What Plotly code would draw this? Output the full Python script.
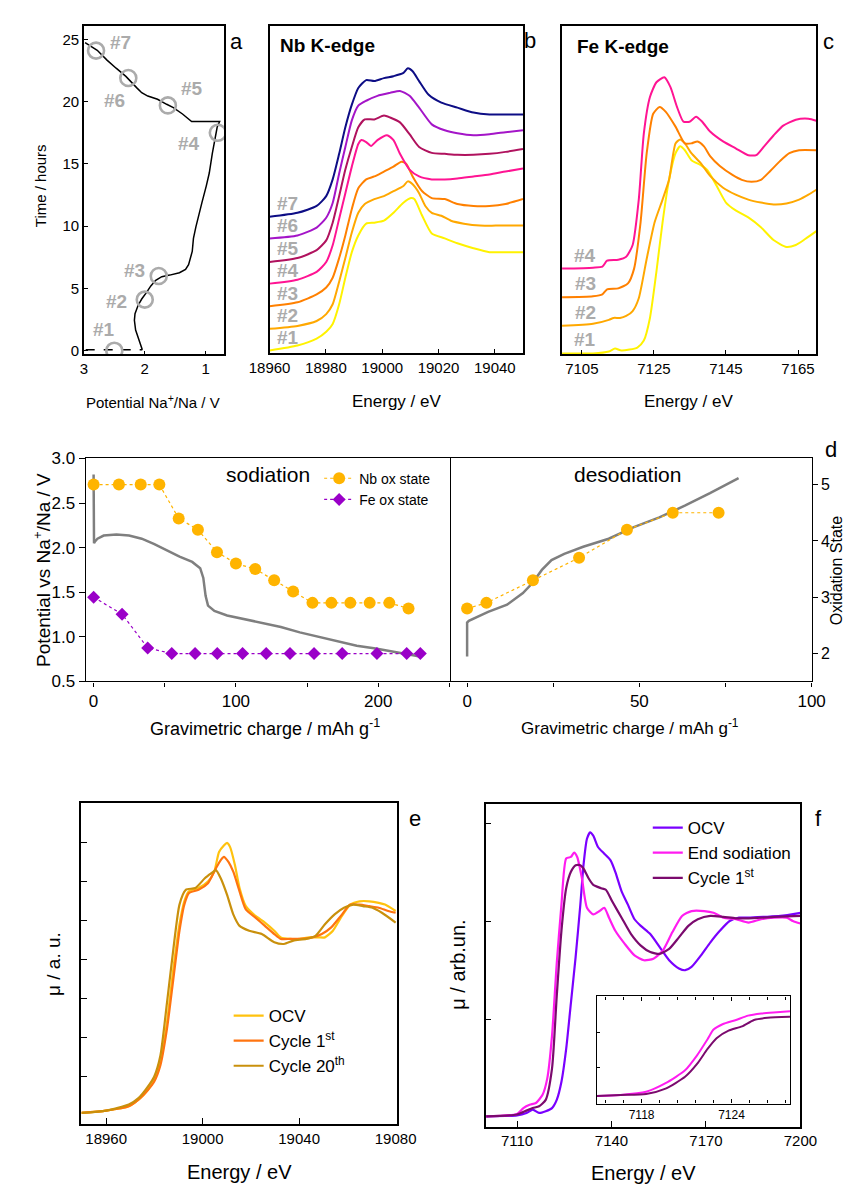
import plotly.graph_objects as go

W, H = 864, 1194
FONT = "Arial, Liberation Sans, sans-serif"


def px(x):
    """horizontal pixel -> paper fraction"""
    return x / W


def py(y):
    """vertical pixel measured from the top -> paper fraction"""
    return 1 - y / H


# ---------------- (a) operando galvanostatic profile ----------------
a_rest_pot = [2.97, 2.04]
a_rest_time = [0.08, 0.08]
a_pot = [2.04, 2.09, 2.15, 2.17, 2.16, 2.11, 2.05, 1.97, 1.90, 1.82, 1.72, 1.59, 1.43,
         1.33, 1.28, 1.22, 1.20, 1.16, 1.11, 1.06, 0.99, 0.94, 0.89, 0.85, 0.81, 0.77,
         1.23, 1.38, 1.53, 1.64, 1.79, 1.95, 2.05, 2.13, 2.21, 2.31, 2.47, 2.62, 2.78, 2.98]
a_time = [0.08, 0.87, 1.66, 2.44, 2.97, 3.63, 4.15, 4.68, 5.20, 5.65, 5.94, 6.07, 6.26,
          6.52, 6.91, 7.97, 9.02, 9.94, 10.99, 11.91, 13.22, 14.27, 15.85, 16.90, 17.96, 18.40,
          18.40, 19.01, 19.53, 19.79, 20.19, 20.45, 20.72, 21.11, 21.50, 22.03, 22.69, 23.34, 24.13, 24.74]
a_spec_names = ["#1", "#2", "#3", "#4", "#5", "#6", "#7"]
a_spec_pot = [2.50, 2.00, 1.77, 0.80, 1.62, 2.27, 2.80]
a_spec_time = [0.0, 4.1, 6.0, 17.5, 19.7, 21.9, 24.1]

# ---------------- (b) Nb K-edge operando XANES (stacked) ----------------
b_e1 = [18960.0, 18969.9, 18976.7, 18980.1, 18982.4, 18984.7, 18986.9, 18989.2, 18991.5, 18994.3, 18997.2, 19000.6,
        19004.0, 19007.4, 19010.2, 19011.4, 19014.2, 19017.6, 19022.2, 19026.7, 19032.4, 19038.1, 19043.8, 19050.0]
b_mu1 = [0.03, 0.08, 0.15, 0.22, 0.30, 0.50, 0.77, 1.03, 1.20, 1.32, 1.33, 1.35,
         1.43, 1.53, 1.58, 1.57, 1.40, 1.22, 1.17, 1.12, 1.07, 1.03, 1.03, 1.03]
b_e2 = [18960.0, 18969.9, 18976.7, 18980.1, 18982.4, 18984.7, 18986.9, 18989.2, 18991.5, 18993.8, 18997.2, 19000.6, 19004.0,
        19007.4, 19009.1, 19010.8, 19013.1, 19015.3, 19017.6, 19021.0, 19024.4, 19029.0, 19034.7, 19040.3, 19046.0, 19050.0]
b_mu2 = [0.25, 0.28, 0.33, 0.40, 0.50, 0.73, 0.97, 1.23, 1.43, 1.52, 1.57, 1.60, 1.65,
         1.70, 1.75, 1.72, 1.63, 1.50, 1.43, 1.40, 1.35, 1.32, 1.30, 1.30, 1.30, 1.30]
b_e3 = [18960.0, 18969.9, 18976.7, 18980.1, 18982.4, 18984.7, 18986.9, 18989.2, 18991.5, 18994.3, 18997.2, 19000.6,
        19004.0, 19006.8, 19008.5, 19010.8, 19014.2, 19017.6, 19022.2, 19026.7, 19032.4, 19038.1, 19043.8, 19050.0]
b_mu3 = [0.48, 0.52, 0.60, 0.67, 0.77, 0.97, 1.20, 1.47, 1.68, 1.77, 1.80, 1.85,
         1.90, 1.95, 1.93, 1.80, 1.65, 1.58, 1.57, 1.52, 1.50, 1.50, 1.52, 1.57]
b_e4 = [18960.0, 18969.9, 18976.7, 18980.1, 18982.4, 18984.7, 18986.9, 18989.2, 18991.5, 18992.6, 18994.3, 18996.0, 18998.3,
        19001.7, 19004.0, 19006.3, 19009.7, 19013.1, 19017.6, 19022.2, 19026.7, 19032.4, 19038.1, 19043.8, 19050.0]
b_mu4 = [0.71, 0.75, 0.83, 0.93, 1.10, 1.37, 1.63, 1.90, 2.13, 2.17, 2.15, 2.11, 2.17,
         2.22, 2.17, 2.03, 1.87, 1.80, 1.77, 1.77, 1.78, 1.80, 1.82, 1.85, 1.88]
b_e5 = [18960.0, 18969.9, 18976.7, 18980.1, 18982.4, 18984.7, 18986.9, 18989.2, 18991.5, 18993.8, 18997.2, 19000.6,
        19002.8, 19006.3, 19009.7, 19013.1, 19017.6, 19022.2, 19026.7, 19032.4, 19038.1, 19043.8, 19050.0]
b_mu5 = [0.93, 0.97, 1.05, 1.15, 1.33, 1.60, 1.87, 2.10, 2.30, 2.38, 2.38, 2.42,
         2.40, 2.35, 2.23, 2.10, 2.04, 2.03, 2.02, 2.02, 2.03, 2.05, 2.08]
b_e6 = [18960.0, 18969.9, 18976.7, 18980.1, 18982.4, 18984.7, 18986.9, 18989.2, 18991.5, 18994.3, 18998.3,
        19002.8, 19006.3, 19009.7, 19013.1, 19017.6, 19022.2, 19026.7, 19032.4, 19038.1, 19043.8, 19050.0]
b_mu6 = [1.17, 1.20, 1.28, 1.38, 1.53, 1.83, 2.10, 2.37, 2.52, 2.57, 2.62,
         2.65, 2.67, 2.62, 2.50, 2.33, 2.27, 2.24, 2.22, 2.23, 2.25, 2.27]
b_e7 = [18960.0, 18969.9, 18976.7, 18980.1, 18982.4, 18984.7, 18986.9, 18989.2, 18991.5, 18994.3, 18997.2, 19000.6,
        19004.0, 19007.4, 19009.1, 19010.8, 19013.1, 19016.5, 19021.0, 19026.7, 19032.4, 19038.1, 19043.8, 19050.0]
b_mu7 = [1.39, 1.43, 1.50, 1.60, 1.77, 2.03, 2.30, 2.53, 2.70, 2.78, 2.77, 2.80,
         2.82, 2.85, 2.90, 2.87, 2.77, 2.63, 2.55, 2.50, 2.45, 2.43, 2.43, 2.43]
b_ticks = [18960, 18980, 19000, 19020, 19040]

# ---------------- (c) Fe K-edge operando XANES (stacked) ----------------
c_e1 = [7099.5, 7108.1, 7112.5, 7114.2, 7116.0, 7120.4, 7122.2, 7123.9, 7125.7, 7127.4, 7129.2, 7131.0, 7132.3, 7133.6,
        7135.4, 7138.0, 7139.8, 7142.4, 7145.0, 7147.7, 7151.2, 7154.7, 7158.2, 7161.8, 7164.4, 7167.0, 7170.1]
c_mu1 = [0.01, 0.01, 0.03, 0.06, 0.04, 0.07, 0.14, 0.37, 0.84, 1.34, 1.77, 2.04, 2.11, 2.07,
         1.97, 1.92, 1.87, 1.71, 1.54, 1.46, 1.39, 1.29, 1.16, 1.09, 1.11, 1.17, 1.25]
c_e2 = [7099.5, 7108.1, 7112.5, 7113.8, 7115.6, 7117.3, 7119.1, 7120.8, 7123.0, 7125.2, 7127.4, 7129.2, 7131.0, 7132.3,
        7133.6, 7135.4, 7138.0, 7140.6, 7144.2, 7147.7, 7151.2, 7154.7, 7158.2, 7161.8, 7165.3, 7167.9, 7170.1]
c_mu2 = [0.29, 0.31, 0.35, 0.37, 0.37, 0.39, 0.44, 0.57, 0.97, 1.34, 1.57, 1.77, 2.14, 2.18,
         2.14, 2.04, 1.94, 1.81, 1.69, 1.62, 1.57, 1.54, 1.52, 1.53, 1.57, 1.62, 1.67]
c_e3 = [7099.5, 7108.1, 7110.7, 7112.0, 7115.1, 7117.8, 7119.5, 7121.3, 7123.0, 7124.8, 7126.6, 7128.3, 7131.0, 7133.6,
        7135.4, 7137.1, 7138.9, 7140.6, 7143.3, 7146.8, 7149.4, 7152.1, 7154.7, 7157.3, 7160.0, 7162.6, 7165.3, 7170.1]
c_mu3 = [0.58, 0.59, 0.61, 0.66, 0.67, 0.72, 0.87, 1.34, 2.04, 2.44, 2.51, 2.46, 2.31, 2.14,
         2.14, 2.16, 2.11, 2.01, 1.91, 1.82, 1.77, 1.75, 1.77, 1.86, 1.96, 2.04, 2.07, 2.07]
c_e4 = [7099.5, 7108.1, 7110.7, 7112.0, 7115.1, 7117.3, 7119.1, 7120.8, 7122.2, 7123.9, 7125.7, 7127.9, 7129.6, 7131.4,
        7133.2, 7134.9, 7136.7, 7138.4, 7140.6, 7144.2, 7147.7, 7151.2, 7153.4, 7155.6, 7158.2, 7160.9, 7164.4, 7167.9, 7170.1]
c_mu4 = [0.87, 0.88, 0.89, 0.95, 0.96, 0.99, 1.11, 1.57, 2.24, 2.61, 2.76, 2.81, 2.71, 2.51,
         2.36, 2.36, 2.41, 2.36, 2.26, 2.16, 2.09, 2.02, 2.02, 2.11, 2.22, 2.32, 2.38, 2.39, 2.37]
c_ticks = [7105, 7125, 7145, 7165]

# ---------------- (d) charge curves and oxidation states ----------------
d_sod_cap = [0.0, 0.3, 1.0, 2.7, 7.1, 16.0, 24.9, 33.8, 42.7, 51.6, 60.4, 69.3, 74.9, 77.1,
             78.7, 80.4, 84.9, 93.8, 104.9, 118.2, 131.6, 144.9, 158.2, 171.6, 184.9, 198.2, 211.6, 229.3]
d_sod_pot = [2.82, 2.05, 2.07, 2.10, 2.135, 2.146, 2.135, 2.10, 2.04, 1.97, 1.90, 1.84, 1.77, 1.66,
             1.46, 1.35, 1.29, 1.24, 1.20, 1.15, 1.11, 1.05, 1.00, 0.95, 0.90, 0.87, 0.83, 0.78]
d_nb_sod_cap = [0.0, 17.8, 33.1, 46.2, 59.8, 73.3, 86.7, 100.0, 113.6, 126.9, 140.2, 153.8, 167.1, 180.4, 194.0, 207.8, 221.3]
d_nb_sod_ox = [5.0, 5.0, 5.0, 5.0, 4.4, 4.2, 3.8, 3.6, 3.5, 3.3, 3.1, 2.9, 2.9, 2.9, 2.9, 2.9, 2.8]
d_fe_sod_cap = [0.0, 20.0, 38.0, 54.9, 71.3, 86.9, 104.7, 121.3, 138.0, 154.9, 174.7, 199.1, 220.0, 229.6]
d_fe_sod_ox = [3.0, 2.7, 2.1, 2.0, 2.0, 2.0, 2.0, 2.0, 2.0, 2.0, 2.0, 2.0, 2.0, 2.0]
d_des_cap = [0.0, 0.0, 0.5, 6.1, 11.6, 16.2, 18.9, 21.7, 24.5, 28.2, 33.7, 41.1, 48.4, 55.8, 63.2, 70.5, 78.8]
d_des_pot = [0.78, 1.16, 1.18, 1.28, 1.36, 1.49, 1.60, 1.75, 1.86, 1.93, 2.01, 2.10, 2.23, 2.34, 2.47, 2.61, 2.78]
d_nb_des_cap = [0.0, 5.6, 19.1, 32.5, 46.4, 59.7, 73.0]
d_nb_des_ox = [2.8, 2.9, 3.3, 3.7, 4.2, 4.5, 4.5]

# ---------------- (e) Nb K-edge, OCV vs cycled ----------------
e_e_ocv = [18949.8, 18960.0, 18969.4, 18973.4, 18977.3, 18979.9, 18982.5, 18985.2, 18987.8, 18990.4,
           18992.4, 18994.3, 18998.3, 19002.2, 19004.8, 19006.8, 19008.8, 19010.1, 19011.4, 19013.4,
           19015.3, 19017.9, 19021.9, 19025.8, 19029.7, 19032.4, 19036.3, 19040.2, 19044.2, 19048.1,
           19050.7, 19054.0, 19057.3, 19061.2, 19065.1, 19069.1, 19073.0, 19075.6, 19080.0]
e_mu_ocv = [0.011, 0.023, 0.045, 0.079, 0.129, 0.180, 0.272, 0.474, 0.744, 0.979,
            1.097, 1.148, 1.165, 1.198, 1.249, 1.350, 1.383, 1.397, 1.375, 1.282,
            1.165, 1.072, 1.022, 0.988, 0.946, 0.912, 0.904, 0.904, 0.912, 0.912,
            0.912, 0.946, 1.013, 1.080, 1.097, 1.097, 1.089, 1.080, 1.047]
e_e_c1 = [18949.8, 18960.0, 18969.4, 18973.4, 18977.3, 18979.9, 18982.5, 18985.2, 18987.8, 18990.4,
          18992.4, 18994.3, 18998.3, 19002.2, 19005.5, 19007.5, 19008.8, 19010.7, 19012.7, 19015.3,
          19017.9, 19021.9, 19025.8, 19029.7, 19032.4, 19036.3, 19040.2, 19045.5, 19049.4, 19053.3,
          19057.3, 19061.2, 19065.1, 19069.1, 19073.0, 19076.9, 19080.0]
e_mu_c1 = [0.011, 0.023, 0.045, 0.079, 0.129, 0.171, 0.256, 0.441, 0.693, 0.946,
           1.080, 1.139, 1.156, 1.190, 1.266, 1.308, 1.325, 1.299, 1.249, 1.148,
           1.055, 1.013, 0.971, 0.929, 0.904, 0.904, 0.904, 0.912, 0.929, 0.963,
           1.022, 1.080, 1.080, 1.072, 1.064, 1.047, 1.038]
e_e_c20 = [18949.8, 18960.0, 18969.4, 18973.4, 18977.3, 18979.9, 18982.5, 18985.2, 18987.8, 18990.4,
           18993.0, 18997.0, 19000.9, 19003.5, 19005.5, 19007.5, 19010.1, 19012.7, 19015.3, 19019.3,
           19024.5, 19029.7, 19033.7, 19037.6, 19042.9, 19046.8, 19050.7, 19054.7, 19058.6, 19062.5,
           19066.5, 19070.4, 19074.3, 19080.0]
e_mu_c20 = [0.011, 0.023, 0.054, 0.087, 0.146, 0.197, 0.306, 0.575, 0.845, 1.080,
            1.156, 1.165, 1.215, 1.240, 1.257, 1.215, 1.131, 1.030, 0.971, 0.946,
            0.929, 0.887, 0.878, 0.895, 0.904, 0.920, 0.979, 1.030, 1.064, 1.080,
            1.072, 1.064, 1.038, 0.988]
e_ticks = [18960, 19000, 19040, 19080]

# ---------------- (f) Fe K-edge, OCV / end of sodiation / cycled ----------------
f_e_ocv = [7100.2, 7110.0, 7113.0, 7115.0, 7117.0, 7119.1, 7121.1, 7122.6, 7124.1, 7125.6,
           7127.1, 7128.6, 7130.1, 7131.1, 7132.2, 7133.2, 7134.2, 7135.7, 7137.7, 7139.7,
           7141.2, 7143.2, 7145.2, 7147.3, 7149.3, 7152.3, 7155.3, 7158.3, 7161.4, 7163.4,
           7165.4, 7168.4, 7171.4, 7174.4, 7177.5, 7180.5, 7183.5, 7188.5, 7193.6, 7200.0]
f_mu_ocv = [0.003, 0.008, 0.020, 0.037, 0.020, 0.029, 0.045, 0.087, 0.180, 0.348,
            0.583, 0.818, 1.087, 1.289, 1.424, 1.457, 1.440, 1.382, 1.348, 1.314,
            1.255, 1.155, 1.087, 1.012, 0.978, 0.936, 0.869, 0.802, 0.760, 0.751,
            0.768, 0.827, 0.894, 0.953, 1.003, 1.020, 1.020, 1.024, 1.029, 1.045]
f_e_es = [7100.2, 7110.0, 7112.0, 7114.0, 7116.0, 7118.1, 7119.6, 7121.1, 7122.6, 7124.1,
          7125.6, 7127.1, 7128.1, 7129.1, 7130.6, 7132.2, 7134.2, 7136.2, 7137.7, 7139.2,
          7141.2, 7144.2, 7147.3, 7150.3, 7153.3, 7156.3, 7159.3, 7162.4, 7165.4, 7169.4,
          7172.4, 7175.5, 7179.5, 7183.5, 7187.5, 7191.6, 7195.6, 7197.6, 7200.0]
f_mu_es = [0.003, 0.015, 0.045, 0.062, 0.071, 0.113, 0.197, 0.415, 0.785, 1.087,
           1.323, 1.331, 1.353, 1.331, 1.222, 1.071, 1.037, 1.054, 1.071, 1.020,
           0.953, 0.886, 0.827, 0.802, 0.810, 0.852, 0.945, 1.029, 1.054, 1.054,
           1.045, 1.020, 1.012, 0.995, 1.012, 1.020, 1.020, 1.003, 0.990]
f_e_c1 = [7100.2, 7110.0, 7113.0, 7115.0, 7117.0, 7119.1, 7121.1, 7122.6, 7124.1, 7125.6,
          7127.1, 7128.6, 7130.1, 7131.1, 7132.7, 7134.2, 7136.7, 7138.2, 7140.2, 7143.2,
          7146.2, 7149.3, 7152.3, 7155.3, 7158.3, 7161.4, 7164.4, 7167.4, 7171.4, 7175.5,
          7179.5, 7183.5, 7187.5, 7191.6, 7195.6, 7200.0]
f_mu_c1 = [0.003, 0.012, 0.032, 0.045, 0.054, 0.087, 0.247, 0.617, 0.953, 1.171,
           1.255, 1.289, 1.289, 1.272, 1.222, 1.188, 1.171, 1.163, 1.104, 1.020,
           0.936, 0.877, 0.844, 0.835, 0.860, 0.919, 0.978, 1.012, 1.029, 1.024,
           1.017, 1.017, 1.020, 1.024, 1.027, 1.029]
f_ticks = [7110, 7140, 7170, 7200]
# pre-edge / edge zoom (inset)
ins_e_es = [7115.0, 7116.6, 7118.3, 7119.6, 7120.9, 7121.7, 7122.4, 7122.8, 7123.4, 7124.3, 7125.1, 7126.0, 7126.8, 7127.9]
ins_mu_es = [0.07, 0.08, 0.11, 0.19, 0.31, 0.45, 0.60, 0.69, 0.74, 0.78, 0.82, 0.84, 0.85, 0.86]
ins_e_c1 = [7115.0, 7116.6, 7118.3, 7119.6, 7120.9, 7121.7, 7122.4, 7123.0, 7123.8, 7124.7, 7125.5, 7126.4, 7127.9]
ins_mu_c1 = [0.07, 0.08, 0.09, 0.14, 0.25, 0.37, 0.51, 0.61, 0.68, 0.72, 0.78, 0.80, 0.81]
ins_ticks = [7118, 7124]

# ---------------- colours ----------------
SPEC_COLORS = ["#FFF200", "#FFA800", "#FF8000", "#FF1493", "#B0125E", "#A415C8", "#0D0D85"]
GREY_LABEL = "#ABABAB"
NB_COLOR, FE_COLOR, CURVE_GREY = "#FFB400", "#9A00C8", "#7F7F7F"
E_COLORS = ["#FFC20E", "#FF7410", "#C9900C"]
F_COLORS = ["#7A00FF", "#FF1CF0", "#7B0A6E"]

fig = go.Figure()


def curve(x, y, color, xa, ya, width=2.0, shape="spline", **kw):
    fig.add_trace(go.Scatter(
        x=x, y=y, mode="lines", xaxis=xa, yaxis=ya,
        line=dict(color=color, width=width, shape=shape, smoothing=0.6),
        showlegend=kw.pop("showlegend", False), hoverinfo="skip", **kw))


# (a)
curve(a_rest_pot, a_rest_time, "black", "x", "y", width=1.4, shape="linear")
fig.data[-1].line.dash = "dash"
curve(a_pot, a_time, "black", "x", "y", width=1.5, shape="linear")
fig.add_trace(go.Scatter(
    x=a_spec_pot, y=a_spec_time, mode="markers", xaxis="x", yaxis="y",
    marker=dict(symbol="circle-open", size=16, color=GREY_LABEL, line=dict(width=2.6, color=GREY_LABEL)),
    showlegend=False, hoverinfo="skip"))

# (b)
b_sets = [(b_e1, b_mu1), (b_e2, b_mu2), (b_e3, b_mu3), (b_e4, b_mu4),
          (b_e5, b_mu5), (b_e6, b_mu6), (b_e7, b_mu7)]
for (e, mu), col in zip(b_sets, SPEC_COLORS):
    curve(e, mu, col, "x2", "y2")

# (c)
c_sets = [(c_e1, c_mu1), (c_e2, c_mu2), (c_e3, c_mu3), (c_e4, c_mu4)]
for (e, mu), col in zip(c_sets, SPEC_COLORS[:4]):
    curve(e, mu, col, "x3", "y3")

# (d) sodiation side
curve(d_sod_cap, d_sod_pot, CURVE_GREY, "x4", "y4", width=2.5, shape="linear")
fig.add_trace(go.Scatter(
    x=d_nb_sod_cap, y=d_nb_sod_ox, mode="lines+markers", xaxis="x4", yaxis="y5",
    name="Nb ox state", line=dict(color=NB_COLOR, width=1.2, dash="dot"),
    marker=dict(symbol="circle", size=12, color=NB_COLOR), legend="legend", hoverinfo="skip"))
fig.add_trace(go.Scatter(
    x=d_fe_sod_cap, y=d_fe_sod_ox, mode="lines+markers", xaxis="x4", yaxis="y5",
    name="Fe ox state", line=dict(color=FE_COLOR, width=1.2, dash="dot"),
    marker=dict(symbol="diamond", size=10, color=FE_COLOR), legend="legend", hoverinfo="skip"))
# (d) desodiation side
curve(d_des_cap, d_des_pot, CURVE_GREY, "x5", "y6", width=2.5, shape="linear")
fig.add_trace(go.Scatter(
    x=d_nb_des_cap, y=d_nb_des_ox, mode="lines+markers", xaxis="x5", yaxis="y7",
    line=dict(color=NB_COLOR, width=1.2, dash="dot"),
    marker=dict(symbol="circle", size=12, color=NB_COLOR), showlegend=False, hoverinfo="skip"))

# (e)
for (e, mu, name), col in zip([(e_e_ocv, e_mu_ocv, "OCV"),
                               (e_e_c1, e_mu_c1, "Cycle 1<sup>st</sup>"),
                               (e_e_c20, e_mu_c20, "Cycle 20<sup>th</sup>")], E_COLORS):
    curve(e, mu, col, "x6", "y8", width=2.2, name=name, showlegend=True,
          legend="legend2", legendgroup=name)

# (f)
for (e, mu, name), col in zip([(f_e_ocv, f_mu_ocv, "OCV"),
                               (f_e_es, f_mu_es, "End sodiation"),
                               (f_e_c1, f_mu_c1, "Cycle 1<sup>st</sup>")], F_COLORS):
    curve(e, mu, col, "x7", "y9", width=2.2, name=name, showlegend=True,
          legend="legend3", legendgroup=name)
curve(ins_e_es, ins_mu_es, F_COLORS[1], "x8", "y10", width=2.0)
curve(ins_e_c1, ins_mu_c1, F_COLORS[2], "x8", "y10", width=2.0)


def ax(**kw):
    base = dict(showline=True, linecolor="black", linewidth=1.6, mirror=True,
                showgrid=False, zeroline=False, ticks="inside", ticklen=5,
                tickwidth=1, tickcolor="black", tickformat="d",
                tickfont=dict(family=FONT, size=15, color="black"))
    base.update(kw)
    return base


def tf(size):
    return dict(family=FONT, size=size, color="black")


ROW1 = [py(351), py(17)]
ROW2 = [py(683.3), py(456.7)]
OX_RANGE = [1.505, 5.465]
POT_RANGE = [0.5, 3.0]

fig.update_layout(
    width=W, height=H, margin=dict(l=0, r=0, t=0, b=0),
    paper_bgcolor="white", plot_bgcolor="white",
    font=dict(family=FONT, color="black"),
    # (a)
    xaxis=ax(domain=[px(66), px(213)], range=[3.0, 0.7], tickvals=[3, 2, 1], anchor="y", ticklen=4,
             tickfont=tf(15)),
    yaxis=ax(domain=ROW1, range=[-0.3, 26.1], tickvals=[0, 5, 10, 15, 20, 25], anchor="x", ticklen=4,
             tickfont=tf(15)),
    # (b)
    xaxis2=ax(domain=[px(261), px(527)], range=[18960, 19050], tickvals=b_ticks, anchor="y2"),
    yaxis2=ax(domain=[py(350), py(17)], range=[0, 3.333], ticks="", showticklabels=False, anchor="x2"),
    # (c)
    xaxis3=ax(domain=[px(568), px(835)], range=[7099.5, 7170.1], tickvals=c_ticks, anchor="y3"),
    yaxis3=ax(domain=ROW1, range=[0, 3.333], ticks="", showticklabels=False, anchor="x3"),
    # (d) left
    xaxis4=ax(domain=[px(68), px(450)], range=[-5.5, 250.2], tick0=0, dtick=100,
              ticks="outside", ticklen=4, linewidth=1.3,
              minor=dict(tick0=0, dtick=50, ticks="outside", ticklen=4, tickcolor="black"),
              anchor="y4", tickfont=tf(17)),
    yaxis4=ax(domain=ROW2, range=POT_RANGE, tick0=0.5, dtick=0.5, tickformat=".1f",
              ticks="outside", ticklen=6, linewidth=1.3, anchor="x4", tickfont=tf(17)),
    yaxis5=dict(overlaying="y4", anchor="x4", range=OX_RANGE, visible=False),
    # (d) right
    xaxis5=ax(domain=[px(450), px(830)], range=[-5.07, 100], tick0=0, dtick=50,
              ticks="outside", ticklen=4, linewidth=1.3,
              minor=dict(tick0=0, dtick=25, ticks="outside", ticklen=4, tickcolor="black"),
              anchor="y6", tickfont=tf(17)),
    yaxis6=dict(domain=ROW2, anchor="x5", range=POT_RANGE, visible=False),
    yaxis7=ax(overlaying="y6", anchor="x5", side="right", range=OX_RANGE, tickvals=[2, 3, 4, 5],
              ticks="outside", ticklen=5, mirror=False, linewidth=1.3, tickfont=tf(16)),
    # (e)
    xaxis6=ax(domain=[px(63.3), px(394.3)], range=[18949.7, 19080.4], tickvals=e_ticks,
              ticklen=6, anchor="y8", tickfont=tf(15)),
    yaxis8=ax(domain=[py(1133.3), py(806.7)], range=[-0.047, 1.602],
              tickvals=[0.2, 0.4, 0.6, 0.8, 1.0, 1.2, 1.4], showticklabels=False, ticklen=6, anchor="x6"),
    # (f)
    xaxis7=ax(domain=[px(487.7), px(818.3)], range=[7100, 7200], tickvals=f_ticks,
              ticklen=6, anchor="y9", tickfont=tf(15)),
    yaxis9=ax(domain=[py(1135.7), py(808.3)], range=[-0.05, 1.6], tickvals=[0.5, 1.0, 1.5],
              showticklabels=False, ticklen=6, anchor="x7"),
    # (f) inset
    xaxis8=ax(domain=[px(604.3), px(807.3)], range=[7115.0, 7127.9], tickvals=ins_ticks,
              ticklen=4, mirror="ticks", linewidth=1.4,
              minor=dict(tick0=7118, dtick=1.2, ticks="inside", ticklen=3, tickcolor="black"),
              anchor="y10", tickfont=tf(12)),
    yaxis10=ax(domain=[py(1112.3), py(1003.3)], range=[0, 1], tickvals=[1 / 3, 2 / 3],
               showticklabels=False, ticklen=3, linewidth=1.4, anchor="x8"),
    legend=dict(x=px(313), y=py(461), xanchor="left", yanchor="top", bgcolor="rgba(0,0,0,0)",
                font=tf(14), tracegroupgap=0),
    legend2=dict(x=px(218), y=py(1005), xanchor="left", yanchor="top", bgcolor="rgba(0,0,0,0)",
                 font=tf(17), tracegroupgap=0),
    legend3=dict(x=px(658), y=py(814), xanchor="left", yanchor="top", bgcolor="rgba(0,0,0,0)",
                 font=tf(17), tracegroupgap=0),
)

ann = []


def text(x, y, s, size, angle=0, anchor="center", color="black", bold=False, **kw):
    ann.append(dict(x=px(x), y=py(y), xref="paper", yref="paper", text=s, showarrow=False,
                    xanchor=anchor, yanchor="middle", textangle=angle,
                    font=dict(family=FONT, size=size, color=color,
                              weight="bold" if bold else "normal"), **kw))


# panel letters
for lx, ly, s in [(226, 33, "a"), (534, 32, "b"), (848, 33, "c"), (850, 448, "d"),
                  (414, 823, "e"), (837, 823, "f")]:
    text(lx, ly, s, 22)

# axis titles
text(20, 180, "Time / hours", 15, angle=-90)
text(139, 399, "Potential Na<sup>+</sup>/Na / V", 15)
text(394, 399, "Energy / eV", 17)
text(701, 399, "Energy / eV", 17)
text(22, 570, "Potential vs Na<sup>+</sup>/Na / V", 19, angle=-90)
text(256, 730, "Gravimetric charge / mAh g<sup>-1</sup>", 18)
text(639, 730, "Gravimetric charge / mAh g<sup>-1</sup>", 17)
text(857, 570, "Oxidation State", 16, angle=-90)
text(34, 970, "\u03bc / a. u.", 19, angle=-90)
text(229, 1182, "Energy / eV", 20)
text(458, 971, "\u03bc / arb.un.", 20, angle=-90)
text(653, 1183, "Energy / eV", 20)

# in-panel headings
text(270, 37, "Nb K-edge", 19, anchor="left", bold=True)
text(582, 38, "Fe K-edge", 19, anchor="left", bold=True)
text(259, 473, "sodiation", 21)
text(637, 473, "desodiation", 21)

# spectrum markers on the potential profile
a_shifts = [(-10, 21), (-28, -2), (-24, 5), (-29, -11), (24, 17), (-14, -22), (24, 8)]
for name, v, t, (dx, dy) in zip(a_spec_names, a_spec_pot, a_spec_time, a_shifts):
    ann.append(dict(x=v, y=t, xref="x", yref="y", text=name, showarrow=False,
                    xshift=dx, yshift=dy, xanchor="center", yanchor="middle",
                    font=dict(family=FONT, size=19, color=GREY_LABEL, weight="bold")))

# stacked-spectrum labels, placed just above each pre-edge baseline
for name, (e, mu) in zip(a_spec_names, b_sets):
    ann.append(dict(x=18966.4, y=mu[0], xref="x2", yref="y2", text=name, showarrow=False,
                    yshift=13, xanchor="center", yanchor="middle",
                    font=dict(family=FONT, size=19, color=GREY_LABEL, weight="bold")))
for name, (e, mu) in zip(a_spec_names[:4], c_sets):
    ann.append(dict(x=7105.9, y=mu[0], xref="x3", yref="y3", text=name, showarrow=False,
                    yshift=13.5, xanchor="center", yanchor="middle",
                    font=dict(family=FONT, size=19, color=GREY_LABEL, weight="bold")))

fig.update_layout(annotations=ann)
fig.write_html("out.html")
